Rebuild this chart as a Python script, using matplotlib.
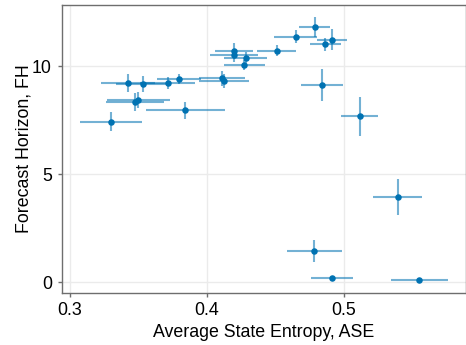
import numpy as np
import matplotlib
matplotlib.use('Agg')
import matplotlib.pyplot as plt

plt.rcParams['font.family'] = ['Liberation Sans', 'DejaVu Sans']

#---------------------------- data ----------------------------------------
ase = [0.330, 0.3425, 0.3535, 0.3715, 0.3796, 0.3476, 0.3500, 0.3842,
       0.4109, 0.4124, 0.4199, 0.4197, 0.4282, 0.4272, 0.4508, 0.4648,
       0.4787, 0.4865, 0.4913, 0.4838, 0.5114, 0.5391, 0.4784, 0.4910, 0.5549]
ase_err = [0.0227, 0.0195, 0.020, 0.020, 0.016, 0.0213, 0.023, 0.0288,
           0.0167, 0.018, 0.0136, 0.0175, 0.0155, 0.015, 0.014, 0.0158,
           0.0112, 0.0115, 0.0112, 0.0155, 0.0133, 0.018, 0.0198, 0.0152, 0.0206]
fh = [7.42, 9.23, 9.18, 9.20, 9.41, 8.32, 8.41, 7.96,
      9.43, 9.29, 10.71, 10.49, 10.38, 10.05, 10.71, 11.36,
      11.81, 11.00, 11.22, 9.12, 7.67, 3.95, 1.42, 0.17, 0.08]
fh_err = [0.43, 0.42, 0.37, 0.28, 0.23, 0.42, 0.37, 0.39,
          0.35, 0.33, 0.35, 0.30, 0.25, 0.23, 0.25, 0.31,
          0.45, 0.31, 0.48, 0.74, 0.91, 0.84, 0.51, 0.05, 0.04]

blue = '#0072B2'

#---------------------------- plot ----------------------------------------
fig = plt.figure(figsize=(4.66, 3.45), dpi=100)
ax = fig.add_axes([0.1324, 0.1516, 0.8666, 0.8348])

ax.errorbar(ase, fh, xerr=ase_err, yerr=fh_err, fmt='none',
            ecolor=blue, alpha=0.55, elinewidth=1.5, capsize=0, zorder=2)
ax.scatter(ase, fh, s=22, color=blue, zorder=3, linewidths=0)

ax.set_xlim(0.2942, 0.5886)
ax.set_ylim(-0.495, 12.84)
ax.set_xticks([0.3, 0.4, 0.5])
ax.set_xticklabels(['0.3', '0.4', '0.5'])
ax.set_yticks([0, 5, 10])

ax.grid(True, color='#ebebeb', linewidth=1, zorder=0)
ax.set_axisbelow(True)
for s in ax.spines.values():
    s.set_color('#6e6e6e')
    s.set_linewidth(1.0)

ax.tick_params(direction='out', length=3, width=1, color='#6e6e6e',
               labelsize=12.8, pad=4)
ax.set_xlabel('Average State Entropy, ASE', fontsize=12.8, labelpad=3)
ax.set_ylabel('Forecast Horizon, FH', fontsize=12.8, labelpad=0)

fig.savefig('out.png', dpi=100)
